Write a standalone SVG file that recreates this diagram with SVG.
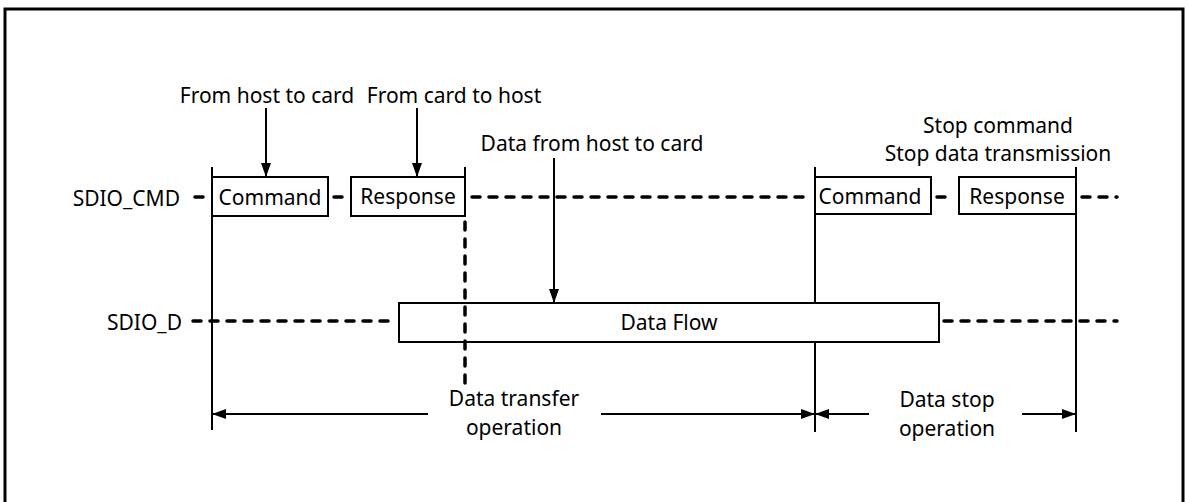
<svg xmlns="http://www.w3.org/2000/svg" width="1189" height="502" viewBox="0 0 1189 502">
<defs>
<marker id="ah" viewBox="0 0 14 10" refX="14" refY="5" markerWidth="14" markerHeight="10" markerUnits="userSpaceOnUse" orient="auto-start-reverse">
<path d="M0,0 L14,5 L0,10 z" fill="#000"/>
</marker>
<style>
text{font-family:"Noto Sans","Open Sans","Liberation Sans",sans-serif;font-size:21px;fill:#000}
.box{fill:#fff;stroke:#000;stroke-width:2}
.solid{stroke:#000;stroke-width:2;fill:none}
.dash{stroke:#000;stroke-width:3.5;stroke-dasharray:8 9;stroke-linecap:round;fill:none}
.arr{stroke:#000;stroke-width:2;fill:none;marker-end:url(#ah)}
.mid{text-anchor:middle}
</style>
</defs>
<rect x="5" y="9" width="1178" height="520" fill="none" stroke="#000" stroke-width="3"/>

<g id="cmd1"><rect class="box" x="212" y="177" width="116" height="39"/><text x="270" y="205" class="mid">Command</text></g>
<g id="resp1"><rect class="box" x="351" y="177" width="114" height="39"/><text x="408" y="204" class="mid">Response</text></g>
<g id="cmd2"><rect class="box" x="815" y="177" width="116" height="37"/><text x="870" y="204" class="mid">Command</text></g>
<g id="resp2"><rect class="box" x="959" y="177" width="117" height="37"/><text x="1017" y="204" class="mid">Response</text></g>
<g id="dataflow"><rect class="box" x="399" y="303" width="540" height="39"/><text x="669" y="330" class="mid">Data Flow</text></g>

<g id="connectors">
<line class="dash" x1="195" y1="197" x2="205" y2="197"/>
<line class="dash" x1="334" y1="197" x2="346" y2="197"/>
<line class="dash" x1="472" y1="197" x2="810" y2="197"/>
<line class="dash" x1="937" y1="197" x2="954" y2="197"/>
<line class="dash" x1="1082" y1="197" x2="1117" y2="197"/>
<line class="dash" x1="193" y1="321" x2="395" y2="321"/>
<line class="dash" x1="944" y1="321" x2="1117" y2="321"/>
<line class="dash" x1="465" y1="222" x2="465" y2="390"/>
<line class="solid" x1="212" y1="167" x2="212" y2="430"/>
<line class="solid" x1="465" y1="167" x2="465" y2="216"/>
<line class="solid" x1="815" y1="167" x2="815" y2="303"/>
<line class="solid" x1="815" y1="342" x2="815" y2="432"/>
<line class="solid" x1="1076" y1="167" x2="1076" y2="432"/>
<line class="arr" x1="266" y1="108" x2="266" y2="177"/>
<line class="arr" x1="417" y1="108" x2="417" y2="177"/>
<line class="arr" x1="554" y1="158" x2="554" y2="303"/>
<line class="arr" x1="428" y1="414" x2="212" y2="414"/>
<line class="arr" x1="601" y1="414" x2="815" y2="414"/>
<line class="arr" x1="869" y1="414" x2="815" y2="414"/>
<line class="arr" x1="1022" y1="414" x2="1076" y2="414"/>
</g>

<g id="labels">
<text x="180" y="206" text-anchor="end">SDIO_CMD</text>
<text x="182" y="330" text-anchor="end">SDIO_D</text>
<text x="267" y="103" class="mid">From host to card</text>
<text x="454" y="103" class="mid">From card to host</text>
<text x="592" y="151" class="mid">Data from host to card</text>
<text x="998" y="133" class="mid">Stop command</text>
<text x="998" y="161" class="mid">Stop data transmission</text>
<text x="514" y="406" class="mid">Data transfer</text>
<text x="514" y="435" class="mid">operation</text>
<text x="947" y="407" class="mid">Data stop</text>
<text x="947" y="436" class="mid">operation</text>
</g>
</svg>
